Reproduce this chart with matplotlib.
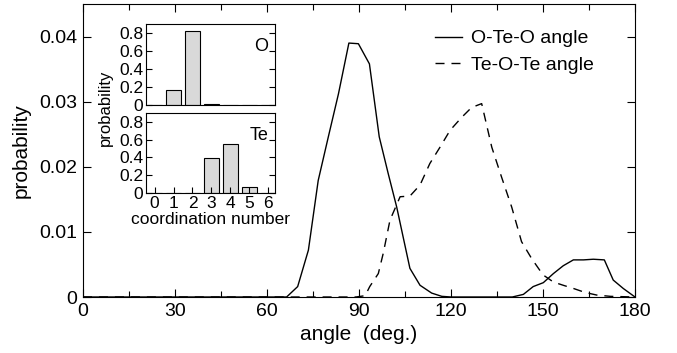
import matplotlib
matplotlib.use("Agg")
import matplotlib.pyplot as plt
from matplotlib.ticker import MultipleLocator, FuncFormatter

plt.rcParams['font.family'] = ['Liberation Sans', 'DejaVu Sans']

# bond angle distributions
oteo_angle = [0, 60, 66.4, 70, 73.5, 76.7, 80, 83.3, 86.7, 89.8, 93.4, 96.6, 99.5,
              102.3, 104.4, 106.6, 109.9, 113.7, 117, 120, 140, 143.6, 146.8, 150.1,
              153.4, 156.6, 159.9, 163.2, 166.4, 170, 172.9, 176.2, 180]
oteo_prob = [0, 0, 0, 0.0016, 0.0072, 0.0179, 0.0246, 0.0312, 0.0390, 0.0389, 0.0358,
             0.0246, 0.0190, 0.0138, 0.0092, 0.0044, 0.0018, 0.0006, 0.0001, 0, 0,
             0.0004, 0.0016, 0.0022, 0.0036, 0.0048, 0.0057, 0.0057, 0.0058, 0.0057,
             0.0026, 0.0013, 0]

teote_angle = [0, 89, 92, 93.5, 96.3, 97.9, 100.1, 103.4, 106.6, 109.9, 113.1, 116.4,
               119.7, 123.5, 126.7, 130, 133.3, 136.5, 139.8, 143, 146.3, 150, 153.4,
               156.6, 160, 163.7, 167.5, 172, 180]
teote_prob = [0, 0, 0.0002, 0.0016, 0.0036, 0.0067, 0.0118, 0.0154, 0.0155, 0.0172,
              0.0205, 0.0230, 0.0256, 0.0276, 0.0291, 0.0297, 0.0230, 0.0184, 0.0138,
              0.0085, 0.0059, 0.0034, 0.0023, 0.0018, 0.0013, 0.0007, 0.0003, 0.0001, 0]

# coordination number histograms
coord = [0, 1, 2, 3, 4, 5, 6]
o_coord = [0, 0.17, 0.82, 0.01, 0, 0, 0]
te_coord = [0, 0, 0, 0.39, 0.55, 0.07, 0]

W, H = 677, 353
fig = plt.figure(figsize=(W / 100, H / 100), dpi=100)

def box(x0, y0, x1, y1):
    return [x0 / W, 1 - y1 / H, (x1 - x0) / W, (y1 - y0) / H]

ax = fig.add_axes(box(83, 4, 635, 297))
ax.plot(oteo_angle, oteo_prob, color='black', lw=1.0, label='O-Te-O angle')
ax.plot(teote_angle, teote_prob, color='black', lw=1.0, ls=(0, (6.5, 5)), label='Te-O-Te angle')
ax.set_xlim(0, 180)
ax.set_ylim(0, 0.045)
ax.xaxis.set_major_locator(MultipleLocator(30))
ax.xaxis.set_minor_locator(MultipleLocator(15))
ax.yaxis.set_major_locator(MultipleLocator(0.01))
ax.yaxis.set_major_formatter(FuncFormatter(lambda v, p: '0' if v == 0 else f'{v:.2f}'))
ax.tick_params(which='both', direction='in', top=True, right=True, labelsize=14, width=0.8)
ax.tick_params(which='major', length=6, pad=4)
ax.tick_params(which='minor', length=4)
ax.set_xlabel('angle  (deg.)', fontsize=15, labelpad=4)
ax.set_ylabel('probability', fontsize=15, labelpad=6)
ax.legend(loc='upper left', frameon=False, fontsize=14, handlelength=1.4,
          handletextpad=0.45, borderpad=0, borderaxespad=0,
          bbox_to_anchor=(0.638, 0.912), labelspacing=0.45)

# insets
inset_kw = dict(color='#d9d9d9', edgecolor='black', width=0.8, linewidth=0.8)
ax1 = fig.add_axes(box(146, 24, 275, 105))
ax1.bar(coord, o_coord, **inset_kw)
ax2 = fig.add_axes(box(146, 113, 275, 193))
ax2.bar(coord, te_coord, **inset_kw)
for a, lab in [(ax1, 'O'), (ax2, 'Te')]:
    a.set_xlim(-0.45, 6.35)
    a.set_ylim(0, 0.9)
    a.set_xticks(coord)
    a.set_yticks([0, 0.2, 0.4, 0.6, 0.8])
    a.yaxis.set_major_formatter(FuncFormatter(lambda v, p: '0' if v == 0 else f'{v:.1f}'))
    a.tick_params(direction='in', right=True, top=False, labelsize=12.5, length=4, pad=2)
    a.text(0.95, 0.72, lab, transform=a.transAxes, ha='right', va='center', fontsize=13)
ax1.tick_params(labelbottom=False, bottom=False)
ax2.set_xlabel('coordination number', fontsize=12.5, labelpad=1)
fig.text(105 / W, 1 - 108 / H, 'probability', rotation=90, ha='center', va='center', fontsize=12)

fig.savefig('out.png', dpi=100)
